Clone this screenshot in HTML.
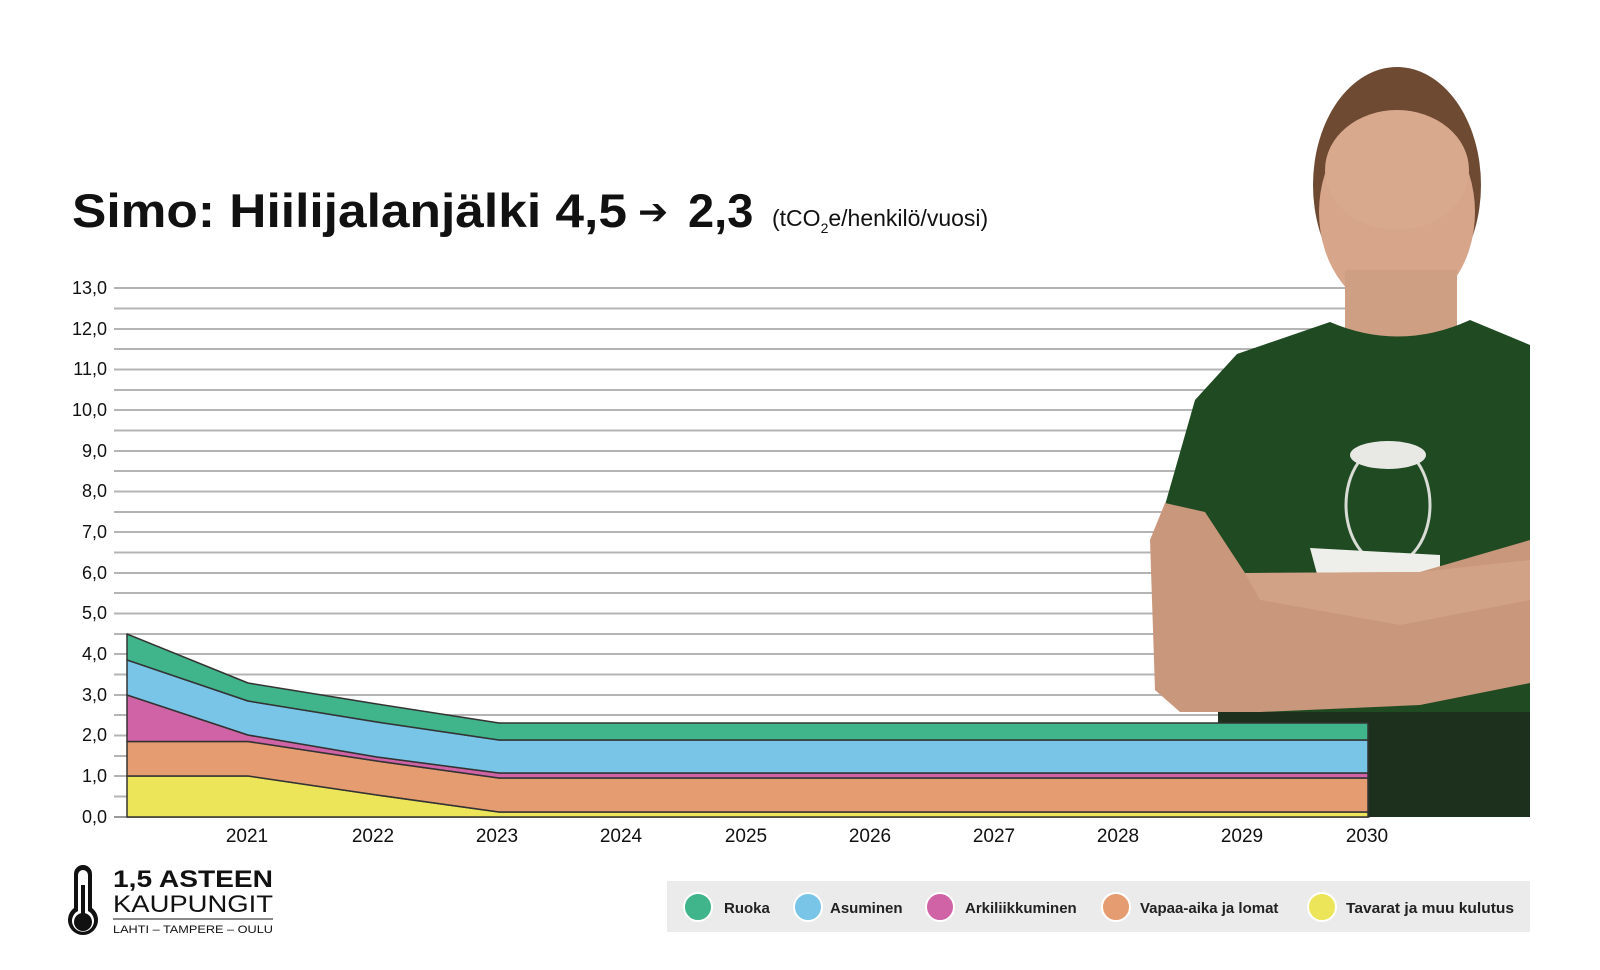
<!DOCTYPE html>
<html><head><meta charset="utf-8"><style>
html,body{margin:0;padding:0;background:#fff;}
svg{display:block;}
text{font-family:"Liberation Sans",sans-serif;}
</style></head><body>
<svg width="1600" height="970" viewBox="0 0 1600 970" xmlns="http://www.w3.org/2000/svg">
<rect width="1600" height="970" fill="#fff"/>
<!-- title -->
<text x="72" y="227" font-size="47" font-weight="bold" fill="#111" textLength="555" lengthAdjust="spacingAndGlyphs">Simo: Hiilijalanjälki 4,5</text>
<text x="638" y="224" font-size="36" font-weight="bold" fill="#111" style="font-family:'DejaVu Sans',sans-serif">➔</text>
<text x="688" y="227" font-size="47" font-weight="bold" fill="#111">2,3</text>
<text x="772" y="226" font-size="23" fill="#111">(tCO<tspan font-size="14" dy="7">2</tspan><tspan dy="-7">e/henkilö/vuosi)</tspan></text>
<!-- gridlines -->
<g stroke="#b4b4b4" stroke-width="2">
<line x1="114" x2="1353" y1="288" y2="288"/><line x1="114" x2="1353" y1="308.5" y2="308.5"/>
<line x1="114" x2="1353" y1="329" y2="329"/><line x1="114" x2="1353" y1="349" y2="349"/>
<line x1="114" x2="1353" y1="369.5" y2="369.5"/><line x1="114" x2="1353" y1="390" y2="390"/>
<line x1="114" x2="1353" y1="410" y2="410"/><line x1="114" x2="1353" y1="430.5" y2="430.5"/>
<line x1="114" x2="1353" y1="451" y2="451"/><line x1="114" x2="1353" y1="471" y2="471"/>
<line x1="114" x2="1353" y1="491.5" y2="491.5"/><line x1="114" x2="1353" y1="512" y2="512"/>
<line x1="114" x2="1353" y1="532" y2="532"/><line x1="114" x2="1353" y1="552.5" y2="552.5"/>
<line x1="114" x2="1353" y1="573" y2="573"/><line x1="114" x2="1353" y1="593" y2="593"/>
<line x1="114" x2="1353" y1="613.5" y2="613.5"/><line x1="114" x2="1353" y1="634" y2="634"/>
<line x1="114" x2="1353" y1="654" y2="654"/><line x1="114" x2="1353" y1="674.5" y2="674.5"/>
<line x1="114" x2="1353" y1="695" y2="695"/><line x1="114" x2="1353" y1="715" y2="715"/>
<line x1="114" x2="1353" y1="735.5" y2="735.5"/><line x1="114" x2="1353" y1="756" y2="756"/>
<line x1="114" x2="1353" y1="776" y2="776"/><line x1="114" x2="1353" y1="796.5" y2="796.5"/>
<line x1="114" x2="1370" y1="817" y2="817" stroke="#999"/>
</g>
<!-- y labels -->
<g font-size="18" fill="#111" text-anchor="end">
<text x="107" y="294">13,0</text><text x="107" y="335">12,0</text><text x="107" y="375">11,0</text>
<text x="107" y="416">10,0</text><text x="107" y="457">9,0</text><text x="107" y="497">8,0</text>
<text x="107" y="538">7,0</text><text x="107" y="579">6,0</text><text x="107" y="619">5,0</text>
<text x="107" y="660">4,0</text><text x="107" y="701">3,0</text><text x="107" y="741">2,0</text>
<text x="107" y="782">1,0</text><text x="107" y="823">0,0</text>
</g>
<!-- man -->
<g>
<rect x="1355" y="300" width="175" height="2" fill="#fff"/>
<ellipse cx="1397" cy="185" rx="84" ry="118" fill="#6e4a33"/>
<ellipse cx="1397" cy="212" rx="78" ry="100" fill="#d6a58a"/>
<ellipse cx="1397" cy="170" rx="72" ry="60" fill="#d9a98e"/>
<rect x="1345" y="270" width="112" height="70" fill="#cf9f84"/>
<path d="M1237,354 L1330,322 Q1400,352 1470,320 L1530,345 L1530,817 L1218,817 L1218,712 L1165,505 L1195,400 Z" fill="#1f4a22"/>
<rect x="1218" y="712" width="312" height="105" fill="#1c301d"/>
<ellipse cx="1388" cy="505" rx="42" ry="60" fill="none" stroke="#d8dcd4" stroke-width="3"/>
<ellipse cx="1388" cy="455" rx="38" ry="14" fill="#e8e8e4"/>
<polygon points="1310,548 1440,555 1440,590 1320,585" fill="#eeeeea"/>
<path d="M1150,540 L1165,503 L1205,512 L1245,573 L1420,572 L1530,540 L1530,683 L1420,705 L1260,712 L1180,712 L1155,690 Z" fill="#c9977b"/>
<path d="M1245,573 L1420,572 L1530,560 L1530,600 L1400,625 L1260,600 Z" fill="#d2a287"/>
</g>
<!-- areas -->
<g stroke="#333" stroke-width="1.5" stroke-linejoin="round">
<path d="M127,817 L127,776 L248,776 L377,795 L499,812 L1368,812 L1368,817 Z" fill="#ece55a"/>
<path d="M127,776 L127,741.5 L248,741.5 L377,761 L499,778 L1368,778 L1368,812 L499,812 L377,795 L248,776 Z" fill="#e59c70"/>
<path d="M127,741.5 L127,695 L248,735 L377,757 L499,773 L1368,773 L1368,778 L499,778 L377,761 L248,741.5 Z" fill="#d062a6"/>
<path d="M127,695 L127,660 L248,701 L377,722 L499,740 L1368,740 L1368,773 L499,773 L377,757 L248,735 Z" fill="#78c5e8"/>
<path d="M127,660 L127,634 L248,683 L377,704 L499,723 L1368,723 L1368,740 L499,740 L377,722 L248,701 Z" fill="#40b48a"/>
</g>
<!-- x labels -->
<g font-size="19" fill="#111" text-anchor="middle">
<text x="247" y="842">2021</text><text x="373" y="842">2022</text><text x="497" y="842">2023</text>
<text x="621" y="842">2024</text><text x="746" y="842">2025</text><text x="870" y="842">2026</text>
<text x="994" y="842">2027</text><text x="1118" y="842">2028</text><text x="1242" y="842">2029</text>
<text x="1367" y="842">2030</text>
</g>
<!-- legend -->
<rect x="667" y="881" width="863" height="51" fill="#ebebeb"/>
<g stroke="#fff" stroke-width="2">
<circle cx="698" cy="907" r="14" fill="#40b48a"/>
<circle cx="808" cy="907" r="14" fill="#78c5e8"/>
<circle cx="940" cy="907" r="14" fill="#d062a6"/>
<circle cx="1116" cy="907" r="14" fill="#e59c70"/>
<circle cx="1322" cy="907" r="14" fill="#ece55a"/>
</g>
<g font-size="15" font-weight="bold" fill="#222">
<text x="724" y="913">Ruoka</text>
<text x="830" y="913">Asuminen</text>
<text x="965" y="913">Arkiliikkuminen</text>
<text x="1140" y="913">Vapaa-aika ja lomat</text>
<text x="1346" y="913" textLength="168" lengthAdjust="spacingAndGlyphs">Tavarat ja muu kulutus</text>
</g>
<!-- logo -->
<g>
<path d="M74,874 a9,9 0 0 1 18,0 L92,908 a15,15 0 1 1 -18,0 Z" fill="#111"/>
<path d="M78,875 a5,5 0 0 1 10,0 L88,911 a11,11 0 1 1 -10,0 Z" fill="#fff"/>
<circle cx="83" cy="922" r="9" fill="#111"/>
<rect x="81" y="885" width="4" height="30" fill="#111"/>
<text x="113" y="887" font-size="24" font-weight="bold" fill="#111" textLength="160" lengthAdjust="spacingAndGlyphs">1,5 ASTEEN</text>
<text x="113" y="912" font-size="24" fill="#111" textLength="160" lengthAdjust="spacingAndGlyphs">KAUPUNGIT</text>
<line x1="113" x2="273" y1="919" y2="919" stroke="#111" stroke-width="1"/>
<text x="113" y="933" font-size="11" fill="#111" textLength="160" lengthAdjust="spacingAndGlyphs">LAHTI – TAMPERE – OULU</text>
</g>
</svg>
</body></html>
